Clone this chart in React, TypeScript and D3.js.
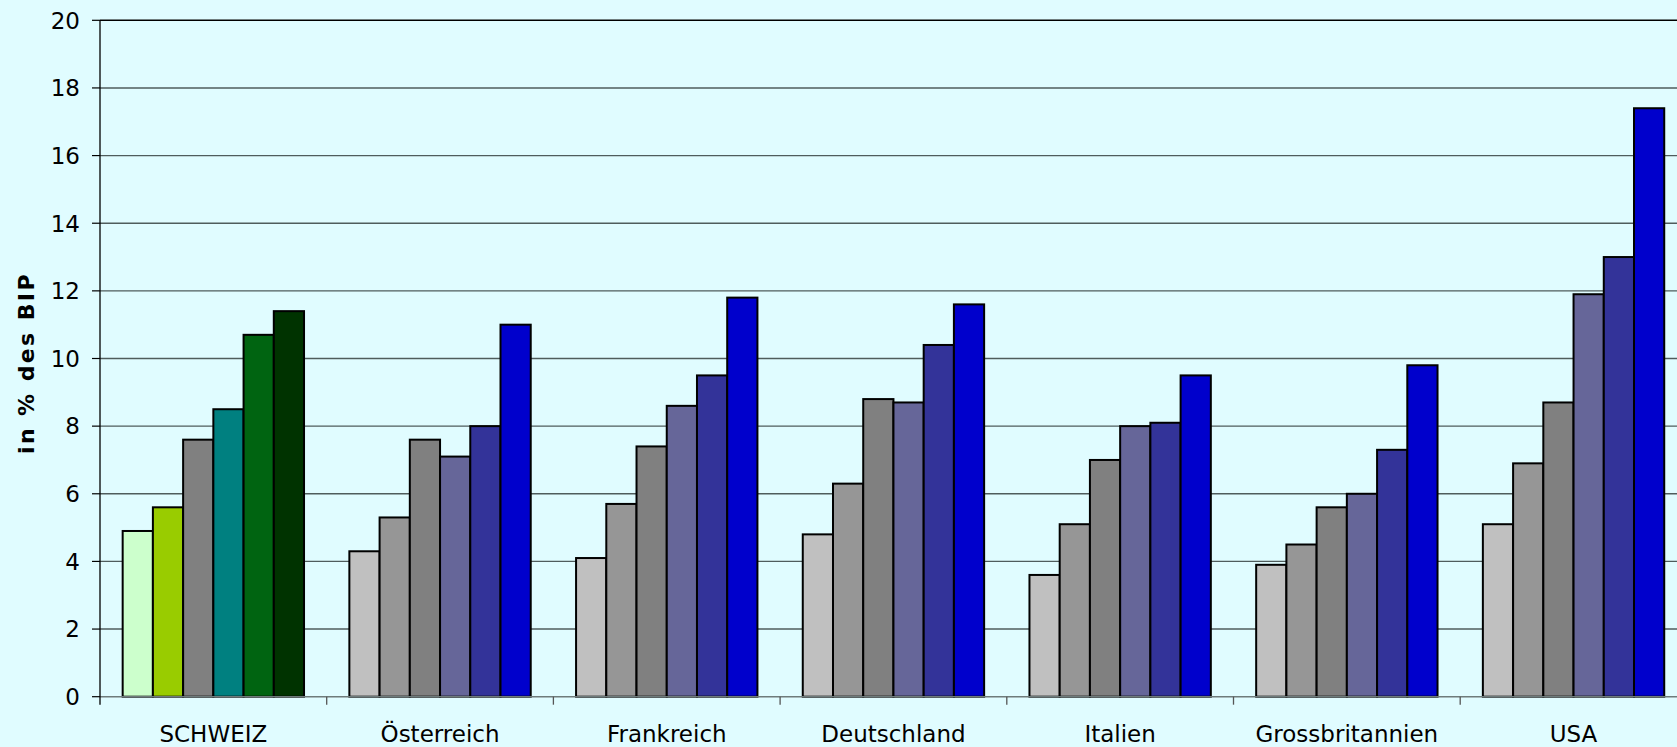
import React from "react";
import * as d3 from "d3";

const categories = ["SCHWEIZ", "Österreich", "Frankreich", "Deutschland", "Italien", "Grossbritannien", "USA"];
const series1 = [4.9, 4.3, 4.1, 4.8, 3.6, 3.9, 5.1];
const series2 = [5.6, 5.3, 5.7, 6.3, 5.1, 4.5, 6.9];
const series3 = [7.6, 7.6, 7.4, 8.8, 7.0, 5.6, 8.7];
const series4 = [8.5, 7.1, 8.6, 8.7, 8.0, 6.0, 11.9];
const series5 = [10.7, 8.0, 9.5, 10.4, 8.1, 7.3, 13.0];
const series6 = [11.4, 11.0, 11.8, 11.6, 9.5, 9.8, 17.4];
const yTicks = [0, 2, 4, 6, 8, 10, 12, 14, 16, 18, 20];
const swissColors = ["#CCFFCC", "#99CC00", "#808080", "#008080", "#006411", "#003300"];
const otherColors = ["#C0C0C0", "#969696", "#808080", "#666699", "#333399", "#0000CC"];
const yTitle = "in % des BIP";

const allSeries = [series1, series2, series3, series4, series5, series6];

export default function App() {
  const W = 1677, H = 747;
  const left = 100, top = 20.3, bottom = 696.7;
  const catW = 226.7;
  const right = left + catW * categories.length;
  const x = d3.scaleBand<string>().domain(categories).range([left, right]).paddingInner(0).paddingOuter(0);
  const y = d3.scaleLinear().domain([0, 20]).range([bottom, top]);
  const inner = d3.scaleBand<number>().domain(d3.range(6)).range([0, x.bandwidth() * 0.8]);
  const groupOffset = x.bandwidth() * 0.1;
  const font = "'DejaVu Sans', Verdana, sans-serif";

  return (
    <svg width={W} height={H} style={{ position: "absolute", left: 0, top: 0, background: "#E0FCFF" }} fontFamily={font}>
      <rect x={0} y={0} width={W} height={H} fill="#E0FCFF" />
      {yTicks.map((t) => (
        <g key={t}>
          {t > 0 && (
            <line x1={left} x2={right} y1={y(t)} y2={y(t)} stroke={t === 20 ? "#000" : "#4f5c5c"} strokeWidth={1.4} />
          )}
          <line x1={left - 8} x2={left} y1={y(t)} y2={y(t)} stroke="#000" strokeWidth={1.2} />
          <text x={80} y={y(t)} dy="0.36em" textAnchor="end" fontSize={23} fill="#000">{t}</text>
        </g>
      ))}
      {categories.map((c, ci) =>
        allSeries.map((s, si) => {
          const v = s[ci];
          const bx = (x(c) as number) + groupOffset + (inner(si) as number);
          return (
            <rect key={c + si} x={bx} y={y(v)} width={inner.bandwidth()} height={y(0) - y(v)}
              fill={ci === 0 ? swissColors[si] : otherColors[si]} stroke="#000" strokeWidth={2} />
          );
        })
      )}
      <line x1={left} x2={right} y1={y(0)} y2={y(0)} stroke="#6e7b7b" strokeWidth={1.5} />
      <line x1={left} x2={left} y1={top} y2={y(0) + 8} stroke="#000" strokeWidth={1.3} />
      {categories.map((c, ci) => (
        <g key={c}>
          {ci > 0 && <line x1={x(c)} x2={x(c)} y1={y(0)} y2={y(0) + 8} stroke="#555" strokeWidth={1.3} />}
          <text x={(x(c) as number) + x.bandwidth() / 2} y={741.5} textAnchor="middle" fontSize={23} fill="#000">{c}</text>
        </g>
      ))}
      <text transform={`translate(33.5,${363}) rotate(-90)`} textAnchor="middle" fontSize={22} fontWeight="bold" letterSpacing={2.4} fill="#000">{yTitle}</text>
    </svg>
  );
}
